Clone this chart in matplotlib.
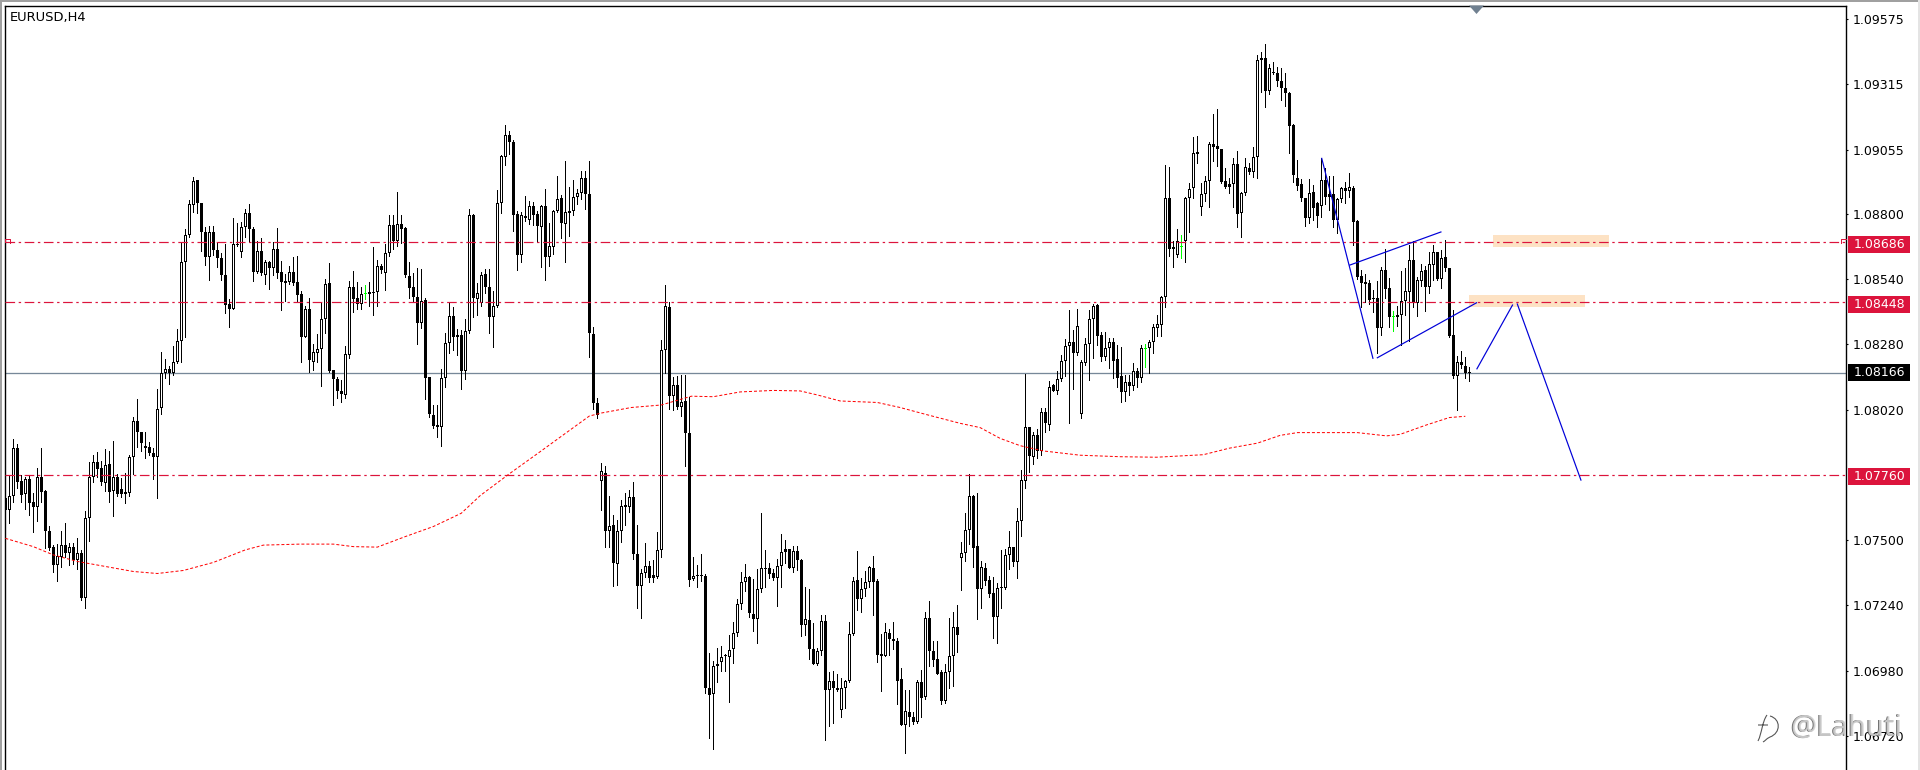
# =====================================================================
# EURUSD H4 candle chart
# Prices are kept as points above 1.00000 (8686 means 1.08686)
# =====================================================================
import numpy as np
import matplotlib
matplotlib.use("Agg")
import matplotlib.pyplot as plt
from matplotlib.lines import Line2D
from matplotlib.patches import PathPatch, Polygon, Rectangle
from matplotlib.path import Path

high_pts = [
    7713,7760,7902,7882,7760,7753,7760,7689,7786,7866,
    7700,7556,7481,7485,7537,7567,7488,7488,7507,7461,
    7616,7809,7839,7852,7815,7862,7856,7895,7764,7746,
    7766,7839,7992,8062,7932,7932,7890,7866,8102,8248,
    8220,8194,8273,8339,8688,8739,8854,8945,8934,8844,
    8748,8752,8751,8688,8642,8678,8459,8783,8761,8765,
    8819,8838,8746,8692,8703,8616,8613,8688,8742,8612,
    8560,8592,8629,8631,8493,8434,8463,8280,8321,8446,
    8540,8602,8178,8148,8138,8274,8531,8570,8528,8509,
    8516,8528,8667,8616,8600,8679,8795,8795,8885,8795,
    8748,8606,8562,8582,8580,8463,8151,8038,8036,8180,
    8324,8443,8427,8339,8337,8379,8819,8799,8525,
    8566,8579,8579,8492,8893,9035,9152,9129,9094,8810,8805,
    8870,8850,8846,8810,8835,8900,8761,8816,8948,8875,
    9009,8905,8933,8897,8970,8968,9009,8350,8064,7807,
    7794,7675,7598,7581,7660,7688,7698,7730,7560,7384,
    7490,7418,7421,7533,8295,8517,8449,8148,8153,8156,
    8156,8069,7434,7401,7443,7364,7050,7017,7070,7080,
    7047,7122,7172,7267,7373,7404,7359,7346,7384,7608,
    7459,7409,7384,7426,7526,7501,7463,7476,7476,7423,
    7312,7304,7169,7072,7200,7200,6975,6978,6967,6950,
    6941,7175,7354,7456,7351,7376,7396,7438,7346,7125,
    7170,7145,7175,7109,6992,6905,6905,6816,6941,6983,
    7214,7259,7100,7100,6983,7008,7189,7214,7242,
    7491,7607,7762,7680,7686,7417,7408,7357,7353,7328,7461,
    7465,7537,7471,7627,7779,8162,7949,7932,7943,8025,
    8025,8134,8122,8173,8237,8300,8416,8337,8419,8217,
    8303,8416,8439,8440,8330,8327,8303,8303,8277,8268,
    8158,8158,8204,8184,8277,8281,8297,8361,8396,8472,
    8992,8984,8692,8737,8715,8867,8923,9104,9109,8923,
    8950,9086,9197,9215,9059,8980,8940,9020,9049,8887,
    9020,9000,9064,9431,9445,9475,9396,9402,9385,9378,
    9362,9285,9155,9013,8938,8861,8936,8914,8848,9020,
    8980,8951,8950,8861,8907,8927,8960,8911,8775,8576,
    8558,8536,8496,8532,8586,8658,8542,8412,8432,8572,
    8582,8675,8692,8546,8599,8591,8646,8675,8649,8655,
    8695,8585,8416,8233,8253,8230,8191,
]

low_pts = [
    7614,7570,7653,7707,7653,7623,7598,7534,7576,7653,
    7470,7461,7371,7339,7391,7432,7399,7405,7384,7262,
    7231,7498,7733,7753,7720,7697,7653,7594,7676,7671,
    7649,7676,7764,7872,7856,7825,7837,7744,7669,8001,
    8147,8123,8158,8204,8211,8310,8708,8808,8804,8653,
    8597,8536,8635,8589,8535,8406,8350,8422,8673,8629,
    8708,8688,8533,8562,8556,8520,8500,8557,8543,8418,
    8454,8519,8516,8450,8211,8308,8168,8178,8211,8115,
    8326,8171,8038,8067,8048,8067,8227,8410,8420,8419,
    8460,8434,8397,8434,8565,8496,8631,8659,8671,8682,
    8549,8466,8450,8281,8346,8062,7992,7945,7912,7876,
    8111,8244,8257,8237,8103,8140,8326,8390,8397,
    8434,8482,8323,8267,8429,8801,8992,9039,8729,8576,8609,
    8771,8760,8755,8688,8586,8534,8592,8638,8805,8701,
    8606,8709,8796,8838,8860,8820,8228,8023,7986,7618,
    7471,7471,7318,7322,7493,7560,7613,7426,7229,7189,
    7354,7334,7334,7348,7431,8165,8024,8019,8023,7994,
    7794,7318,7342,7312,7339,6891,6713,6669,6936,6980,
    6980,6855,7012,7117,7226,7297,7192,7139,7092,7292,
    7312,7351,7343,7239,7314,7409,7389,7371,7381,7117,
    7122,7025,7007,7003,7042,6704,6758,6771,6900,6796,
    6830,6936,7122,7221,7212,7276,7314,7200,7013,6900,
    7037,7042,7067,6846,6763,6652,6758,6766,6771,6796,
    6866,6997,7000,6967,6846,6853,6913,6920,7055,
    7302,7417,7485,7391,7186,7231,7322,7274,7112,7092,7231,
    7307,7385,7395,7351,7518,7709,7773,7803,7826,7839,
    7932,7939,8094,8082,8135,8155,7965,8100,8237,7985,
    8197,8138,8227,8277,8215,8217,8184,8144,8111,8049,
    8054,8078,8098,8111,8131,8191,8167,8244,8314,8314,
    8427,8631,8589,8629,8625,8609,8725,8861,9003,8795,
    8850,8828,9009,8991,8923,8901,8881,8828,8748,8708,
    8874,8958,8947,8943,9283,9226,9275,9358,9309,9252,
    9230,9043,8927,8894,8852,8752,8764,8775,8748,8788,
    8837,8814,8748,8724,8848,8844,8865,8675,8538,8430,
    8450,8440,8408,8244,8317,8465,8350,8333,8353,8277,
    8396,8294,8430,8392,8513,8412,8483,8536,8536,8503,
    8573,8310,8144,8018,8187,8147,8135,
]

open_pts = [
    7667,7618,7677,7866,7736,7683,7742,7651,7630,7750,
    7696,7537,7472,7401,7434,7480,7450,7472,7421,7448,
    7271,7587,7750,7809,7786,7729,7802,7697,7750,7702,
    7683,7687,7830,7973,7929,7870,7870,7846,7830,8025,
    8164,8180,8164,8208,8292,8606,8714,8833,8934,8841,
    8726,8626,8726,8655,8622,8554,8439,8422,8678,8649,
    8746,8801,8738,8566,8650,8554,8606,8582,8658,8566,
    8531,8527,8566,8527,8480,8310,8419,8211,8247,8260,
    8379,8524,8176,8140,8094,8078,8237,8507,8463,8442,
    8480,8479,8485,8487,8592,8562,8642,8754,8691,8757,
    8742,8552,8507,8470,8363,8456,8148,7997,7959,7952,
    8144,8284,8393,8308,8317,8175,8332,8795,8462,
    8445,8559,8507,8390,8432,8841,9027,9115,9085,8800,8634,
    8791,8776,8830,8800,8746,8830,8629,8666,8810,8861,
    8758,8801,8810,8868,8883,8943,8880,8320,8044,7737,
    7769,7538,7560,7404,7535,7638,7630,7673,7444,7316,
    7368,7396,7351,7354,7460,8257,8430,8074,8118,8029,
    8053,7927,7344,7361,7358,7356,6911,6888,7000,7013,
    7038,7033,7067,7129,7246,7333,7352,7205,7185,7306,
    7389,7389,7368,7351,7396,7454,7463,7389,7456,7419,
    7162,7182,7067,7007,7057,7177,6903,6940,6913,6823,
    6913,6940,7125,7342,7267,7304,7334,7389,7339,7047,
    7038,7132,7105,7100,6945,6763,6816,6794,6774,6935,
    6875,7189,7058,7025,6975,6858,6975,7038,7152,
    7428,7448,7539,7675,7475,7307,7389,7341,7288,7195,7312,
    7311,7440,7471,7414,7575,7737,7949,7832,7917,7856,
    8012,7960,8118,8095,8140,8212,8272,8288,8246,8001,
    8207,8280,8379,8435,8315,8231,8264,8288,8220,8154,
    8089,8128,8115,8175,8147,8264,8264,8288,8343,8358,
    8467,8861,8660,8635,8668,8692,8861,8901,9040,8825,
    8877,8929,9076,9068,9056,8929,8907,8917,8996,8801,
    8881,8980,8967,9024,9410,9418,9289,9365,9362,9328,
    9299,9280,9151,8940,8917,8861,8781,8885,8842,8832,
    8932,8868,8877,8773,8857,8891,8889,8901,8771,8552,
    8528,8522,8460,8463,8343,8576,8503,8390,8387,8395,
    8453,8489,8615,8443,8533,8576,8507,8595,8646,8538,
    8626,8582,8315,8154,8208,8195,8167,
]

close_pts = [
    7620,7677,7866,7733,7680,7742,7649,7630,7750,7693,
    7538,7470,7401,7437,7480,7450,7472,7421,7449,7271,
    7587,7750,7810,7785,7733,7798,7693,7750,7683,7683,
    7691,7830,7973,7929,7886,7868,7846,7830,8021,8164,
    8180,8164,8208,8292,8606,8714,8837,8929,8841,8726,
    8626,8726,8655,8622,8554,8438,8422,8678,8674,8746,
    8801,8740,8569,8650,8562,8606,8582,8658,8562,8529,
    8525,8566,8525,8476,8310,8419,8217,8248,8260,8379,
    8519,8174,8140,8094,8083,8240,8507,8462,8442,8479,
    8479,8487,8487,8590,8577,8642,8754,8691,8757,8740,
    8556,8505,8470,8363,8454,8147,8002,7956,7952,8144,
    8284,8393,8308,8316,8175,8332,8793,8466,8483,
    8554,8507,8390,8432,8841,9029,9115,9084,8796,8634,8796,
    8781,8830,8793,8750,8830,8629,8671,8810,8860,8761,
    8805,8810,8868,8883,8940,8880,8325,8044,7999,7774,
    7535,7558,7408,7535,7637,7630,7673,7446,7316,7368,
    7396,7351,7361,7460,8257,8434,8074,8118,8029,8051,
    7927,7343,7359,7358,7356,6911,6883,7000,7008,7035,
    7037,7062,7130,7246,7333,7354,7209,7185,7306,7388,
    7384,7364,7348,7398,7451,7463,7389,7456,7419,7162,
    7185,7067,7007,7058,7177,6903,6938,6913,6903,6913,
    6940,7125,7337,7267,7306,7334,7391,7333,7042,7038,
    7134,7105,7097,6938,6763,6818,6796,6774,6936,6871,
    7189,7058,7022,6967,6858,6975,7038,7154,7122,
    7448,7539,7675,7470,7307,7392,7339,7287,7195,7308,7308,
    7440,7471,7414,7575,7738,7949,7836,7917,7855,8009,
    7965,8111,8095,8140,8212,8272,8288,8246,8351,8208,
    8280,8379,8432,8314,8231,8264,8288,8215,8147,8090,
    8128,8115,8175,8147,8264,8262,8288,8347,8359,8467,
    8861,8660,8668,8692,8667,8861,8897,9040,9039,8877,
    8929,9076,9067,9056,8927,8907,8917,8996,8800,8881,
    8984,8967,9024,9410,9418,9289,9378,9361,9329,9301,
    9279,9150,8955,8911,8861,8781,8881,8821,8792,8932,
    8868,8878,8773,8858,8901,8901,8905,8768,8549,8525,
    8520,8456,8459,8343,8574,8501,8387,8388,8395,8453,
    8491,8615,8443,8536,8573,8509,8599,8646,8540,8625,
    8584,8314,8155,8208,8199,8164,8166,
]

# bars the terminal painted green
green_bars = [90, 285, 294, 347]

# moving average, read at these bar numbers
ma_bars = [0,7,12,18,25,32,38,44.5,52,60,64.5,73.7,82,87,93,100,107,114,118.7,
           126,133.7,139.5,146,149,156.5,164,171.5,177,183.7,192,198.7,203,208.7,
           218,223.7,230,238.7,243.7,248.7,253.7,259.5,268.7,278.7,287.8,299.5,
           306,313,318.7,323,338,345.3,348.7,355,361,365]
ma_pts = [7507,7474,7441,7415,7395,7375,7367,7379,7411,7461,7480,7484,7484,7474,7472,7514,7554,7607,7677,
          7764,7852,7919,7994,8006,8028,8038,8073,8071,8090,8096,8094,8078,8054,
          8048,8028,8001,7965,7948,7905,7876,7855,7838,7832,7830,7840,
          7866,7886,7917,7928,7928,7915,7921,7957,7988,7993]

# hand drawn trend lines: (bar, points) at both ends
trend_bars = [(329.1, 341.9), (336.1, 358.9), (343.0, 367.8), (367.9, 376.8), (378.0, 393.9)]
trend_pts = [(9020, 8224), (8595, 8727), (8226, 8445), (8182, 8436), (8440, 7739)]

# orange zones: first bar, last bar, lower and upper points
zone_bars = [(371.9, 400.9), (365.9, 394.9)]
zone_pts = [(8667, 8715), (8428, 8476)]

level_prices = [1.08686, 1.08448, 1.07760]
last_price = 1.08166
tick_prices = [1.09575, 1.09315, 1.09055, 1.08800, 1.08540, 1.08280,
               1.08020, 1.07500, 1.07240, 1.06980, 1.06720]

CRIMSON = "#DC143C"
GREY_BLUE = "#778899"
W, H = 1920, 770
PX = 0.72  # one pixel in points at dpi 100
PRICE_PER_PX = 1 / 25112


def to_price(points):
    return 1 + np.asarray(points, dtype=float) / 1e5


def fig_xy(x, y):
    # screen pixel to figure fraction
    return x / W, 1 - y / H


def pixel_line(xs, ys, color, lw=PX):
    fx, fy = zip(*[fig_xy(a, b) for a, b in zip(xs, ys)])
    fig.add_artist(Line2D(fx, fy, color=color, lw=lw, zorder=8))


fig = plt.figure(figsize=(W / 100, H / 100), dpi=100, facecolor="white")
ax = fig.add_axes([4.5 / W, 0, 1841.5 / W, 764.5 / H])
ax.set_xlim(-0.2075, 460.17)
ax.set_ylim(1.065845, 1.096288)

for side in ["top", "left", "right"]:
    ax.spines[side].set_linewidth(1.0)
    ax.spines[side].set_color("black")
ax.spines["bottom"].set_visible(False)

# =====================================================================
# Candles: black outer block, white slit for the up bars
# =====================================================================
bars = np.arange(len(high_pts))
o, h, l, c = map(to_price, (open_pts, high_pts, low_pts, close_pts))
is_green = np.isin(bars, green_bars)
is_up = c >= o
body_low = np.minimum(o, c)
body_size = np.maximum(np.abs(c - o), 1.2 * PRICE_PER_PX)

wick_colors = ["#00FF00" if g else "black" for g in is_green]
ax.vlines(bars, l, h, colors=wick_colors, lw=PX, antialiased=False, zorder=2)

ax.bar(bars, body_size, bottom=body_low, width=0.72, linewidth=0,
       color=wick_colors, antialiased=False, zorder=3)

slit = is_up & (body_size > 3 * PRICE_PER_PX)
ax.bar(bars[slit], body_size[slit] - 2 * PRICE_PER_PX,
       bottom=body_low[slit] + PRICE_PER_PX, width=0.26, linewidth=0,
       color="white", antialiased=False, zorder=3.5)

# =====================================================================
# Zones, levels, moving average, trend lines
# =====================================================================
for (b0, b1), (p0, p1) in zip(zone_bars, zone_pts):
    ax.add_patch(Rectangle((b0, to_price(p0)), b1 - b0, to_price(p1) - to_price(p0),
                           facecolor="#FDE2C4", edgecolor="none", zorder=1))

for price in level_prices:
    ax.axhline(price, color=CRIMSON, lw=PX * 1.2, ls=(0, (8, 3, 2, 3)), zorder=4)
ax.axhline(last_price, color=GREY_BLUE, lw=PX * 1.3, zorder=1.5)

ax.plot(ma_bars, to_price(ma_pts), color="#FF0000", lw=PX, ls=(0, (3, 2)), zorder=5)

for xs, ys in zip(trend_bars, trend_pts):
    ax.plot(xs, to_price(ys), color="#0000D8", lw=PX * 1.2, zorder=6)

# =====================================================================
# Price axis
# =====================================================================
ax.set_xticks([])
ax.yaxis.tick_right()
ax.set_yticks(tick_prices)
ax.set_yticklabels([f"{p:.5f}" for p in tick_prices], fontsize=9, family="DejaVu Sans")
ax.tick_params(axis="y", length=2 * PX, width=PX * 1.1, pad=3.4, color="black")

axis_x = ax.get_yaxis_transform()
for price, face, shift in [(1.08686, CRIMSON, 2), (1.08448, CRIMSON, 2),
                           (last_price, "black", 0), (1.07760, CRIMSON, 2)]:
    ax.add_patch(Rectangle((1843.5 / 1841.5, price - (8.5 + shift) * PRICE_PER_PX),
                           62 / 1841.5, 17 * PRICE_PER_PX, transform=axis_x, facecolor=face,
                           edgecolor="none", clip_on=False, zorder=7))
    ax.text((1854 - 4.5) / 1841.5, price - shift * PRICE_PER_PX, f"{price:.5f}", transform=axis_x,
            color="white", fontsize=9, family="DejaVu Sans", va="center", ha="left",
            clip_on=False, zorder=8)

ax.text(5 / 1841.5, 1 - 12.5 / 764.5, "EURUSD,H4", transform=ax.transAxes, fontsize=9.4,
        family="DejaVu Sans", va="center", ha="left", color="black", zorder=8)

# =====================================================================
# Window bits: frame edge, shift marker, alert corners, watermark
# =====================================================================
fig.add_artist(Rectangle(fig_xy(0, 2), 1, 2 / H, facecolor="#A0A0A0", edgecolor="none"))
fig.add_artist(Rectangle(fig_xy(0, H), 1.5 / W, 1, facecolor="#A0A0A0", edgecolor="none"))
fig.add_artist(Rectangle(fig_xy(1918, H), 2 / W, 1, facecolor="#E4E4E4", edgecolor="none"))
fig.add_artist(Polygon([fig_xy(1469, 5.5), fig_xy(1484, 5.5), fig_xy(1476.5, 14)],
                       facecolor="#708090", edgecolor="none", zorder=8))

pixel_line([5.3, 5.3, 10, 10], [241.5, 239, 239, 243], CRIMSON)
pixel_line([1841, 1841, 1846], [243, 239, 239], CRIMSON)

for shift, shade in [(-0.8, "#5A5A5A"), (0, "#D4D4D4")]:
    fig.text((1790 + shift) / W, 1 - 728 / H, "@Lahuti", fontsize=21, family="Noto Sans",
             color=shade, va="center", ha="left", alpha=0.85, zorder=9)

logo_xy = [(1767, 715), (1762, 722), (1762, 733), (1758, 741),
           (1770, 716), (1781, 719), (1781, 733), (1770, 737),
           (1766, 739), (1765, 741), (1763, 742),
           (1758, 725), (1768, 725)]
logo_codes = [Path.MOVETO, Path.CURVE4, Path.CURVE4, Path.CURVE4,
              Path.MOVETO, Path.CURVE4, Path.CURVE4, Path.CURVE4,
              Path.CURVE4, Path.CURVE4, Path.CURVE4,
              Path.MOVETO, Path.LINETO]
fig.add_artist(PathPatch(Path([fig_xy(*p) for p in logo_xy], logo_codes), facecolor="none",
                         edgecolor="#555555", lw=PX * 1.1, transform=fig.transFigure, zorder=9))

fig.savefig("out.png", dpi=100, facecolor="white")
